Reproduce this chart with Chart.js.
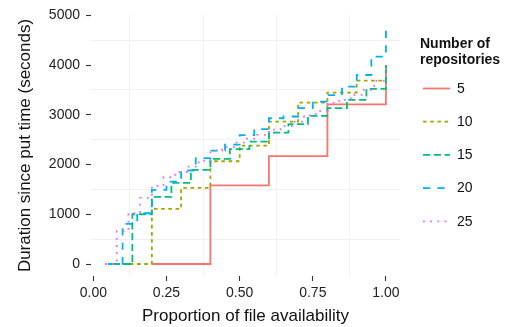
<!DOCTYPE html>
<html>
<head>
<meta charset="utf-8">
<script src="https://cdn.jsdelivr.net/npm/chart.js@4.4.0/dist/chart.umd.min.js"></script>
<style>
html,body{margin:0;padding:0;background:#ffffff;}
#wrap{width:520px;height:327px;position:relative;}
</style>
</head>
<body>
<div id="wrap"><canvas id="c" width="520" height="327"></canvas></div>
<script>
// ---- data ----
const seriesNames = ['5', '10', '15', '20', '25'];

const prop5 = [0.2, 0.4, 0.6, 0.8, 1.0];
const dur5  = [0, 1580, 2170, 3210, 3990];

const prop10 = [0.1, 0.2, 0.3, 0.4, 0.5, 0.6, 0.7, 0.8, 0.9, 1.0];
const dur10  = [0, 1107, 1529, 2066, 2380, 2863, 3246, 3447, 3688, 4000];

const prop15 = [0.0667, 0.1333, 0.2, 0.2667, 0.3333, 0.4, 0.4667, 0.5333, 0.6, 0.6667, 0.7333, 0.8, 0.8667, 0.9333, 1.0];
const dur15  = [0, 1000, 1348, 1630, 1891, 2113, 2308, 2461, 2642, 2811, 2978, 3133, 3300, 3521, 4038];

const prop20 = [0.05, 0.1, 0.15, 0.2, 0.25, 0.3, 0.35, 0.4, 0.45, 0.5, 0.55, 0.6, 0.65, 0.7, 0.75, 0.8, 0.85, 0.9, 0.95, 1.0];
const dur20  = [0, 805, 1020, 1489, 1656, 1880, 2130, 2280, 2400, 2590, 2710, 2930, 2965, 3133, 3266, 3394, 3567, 3800, 4171, 4700];

const prop25 = [0.04, 0.08, 0.12, 0.16, 0.2, 0.24, 0.28, 0.32, 0.36, 0.4, 0.44, 0.48, 0.52, 0.56, 0.6, 0.64, 0.68, 0.72, 0.76, 0.8, 0.84, 0.88, 0.92, 0.96, 1.0];
const dur25  = [0, 660, 1020, 1330, 1570, 1744, 1850, 1958, 2080, 2280, 2350, 2440, 2520, 2596, 2700, 2777, 2863, 2990, 3075, 3240, 3300, 3400, 3500, 3680, 4000];

const xTickLabels = [0, 0.25, 0.5, 0.75, 1];
const yTickLabels = [0, 1000, 2000, 3000, 4000, 5000];
const xMinor = [0.125, 0.375, 0.625, 0.875];
const yMinor = [500, 1500, 2500, 3500, 4500];

// ---- styling ----
const FONT = '"Liberation Sans", Arial, Helvetica, sans-serif';
Chart.defaults.font.family = FONT;
const colours = ['#F8766D', '#A3A500', '#00BF7D', '#00B0F6', '#E76BF3'];
const dashes  = [[], [3.6, 3.6], [7.2, 3.6], [7.2, 7.2], [1.8, 5.4]];
const LW = 1.8;

const propList = [prop5, prop10, prop15, prop20, prop25];
const durList  = [dur5, dur10, dur15, dur20, dur25];

const datasets = seriesNames.map((name, i) => ({
  label: name,
  data: propList[i].map((x, j) => ({ x: x, y: durList[i][j] })),
  stepped: 'before',
  borderColor: colours[i],
  backgroundColor: colours[i],
  borderWidth: LW,
  borderDash: dashes[i],
  borderCapStyle: 'butt',
  pointRadius: 0,
  pointHoverRadius: 0,
  fill: false,
  order: 5 - i
}));

const near = (arr, v) => arr.some(a => Math.abs(a - v) < 1e-9);

const legendPlugin = {
  id: 'ggLegend',
  afterDraw(chart) {
    const ctx = chart.ctx;
    ctx.save();
    ctx.fillStyle = '#111111';
    ctx.textAlign = 'left';
    ctx.textBaseline = 'alphabetic';
    ctx.font = 'bold 14px ' + FONT;
    ctx.fillText('Number of', 420, 48);
    ctx.fillText('repositories', 420, 63.5);
    chart.data.datasets.forEach((ds, i) => {
      const y = 88.5 + 33.2 * i;
      ctx.strokeStyle = ds.borderColor;
      ctx.lineWidth = ds.borderWidth;
      ctx.lineCap = 'butt';
      ctx.setLineDash(ds.borderDash || []);
      ctx.beginPath();
      ctx.moveTo(423, y);
      ctx.lineTo(450, y);
      ctx.stroke();
      ctx.setLineDash([]);
      ctx.font = '14px ' + FONT;
      ctx.textBaseline = 'middle';
      ctx.fillStyle = '#111111';
      ctx.fillText(ds.label, 457, y + 0.5);
    });
    ctx.restore();
  }
};

new Chart(document.getElementById('c'), {
  type: 'line',
  data: { datasets: datasets },
  plugins: [legendPlugin],
  options: {
    responsive: false,
    animation: false,
    devicePixelRatio: 1,
    layout: { padding: { top: 15, right: 120, left: 0, bottom: 0 } },
    plugins: { legend: { display: false }, tooltip: { enabled: false } },
    scales: {
      x: {
        type: 'linear',
        min: -0.008,
        max: 1.048,
        afterBuildTicks: s => {
          s.ticks = xTickLabels.concat(xMinor).sort((a, b) => a - b).map(v => ({ value: v }));
        },
        afterFit: s => { s.height = 51; },
        border: { display: false },
        grid: {
          color: c => (c.tick && near(xMinor, c.tick.value)) ? '#f1f1f1' : 'rgba(0,0,0,0)',
          tickColor: c => (c.tick && near(xTickLabels, c.tick.value)) ? '#333333' : 'rgba(0,0,0,0)',
          lineWidth: 1,
          tickWidth: 1.1,
          tickLength: 5,
          drawTicks: true
        },
        ticks: {
          autoSkip: false,
          maxRotation: 0,
          padding: 4,
          color: '#222222',
          font: { size: 14 },
          callback: v => near(xTickLabels, v) ? Number(v).toFixed(2) : ''
        },
        title: {
          display: true,
          text: 'Proportion of file availability',
          color: '#111111',
          font: { size: 17 },
          padding: { top: 0, bottom: 0 }
        }
      },
      y: {
        type: 'linear',
        min: -241,
        max: 5006,
        afterBuildTicks: s => {
          s.ticks = yTickLabels.concat(yMinor).sort((a, b) => a - b).map(v => ({ value: v }));
        },
        afterFit: s => { s.width = 91; },
        border: { display: false },
        grid: {
          color: c => (c.tick && near(yMinor, c.tick.value)) ? '#f1f1f1' : 'rgba(0,0,0,0)',
          tickColor: c => (c.tick && near(yTickLabels, c.tick.value)) ? '#333333' : 'rgba(0,0,0,0)',
          lineWidth: 1,
          tickWidth: 1.1,
          tickLength: 5,
          drawTicks: true
        },
        ticks: {
          autoSkip: false,
          padding: 6,
          color: '#222222',
          font: { size: 14 },
          callback: v => near(yTickLabels, v) ? String(v) : ''
        },
        title: {
          display: true,
          text: 'Duration since put time (seconds)',
          color: '#111111',
          font: { size: 17 },
          padding: { top: 15, bottom: 0 }
        }
      }
    }
  }
});
</script>
</body>
</html>
